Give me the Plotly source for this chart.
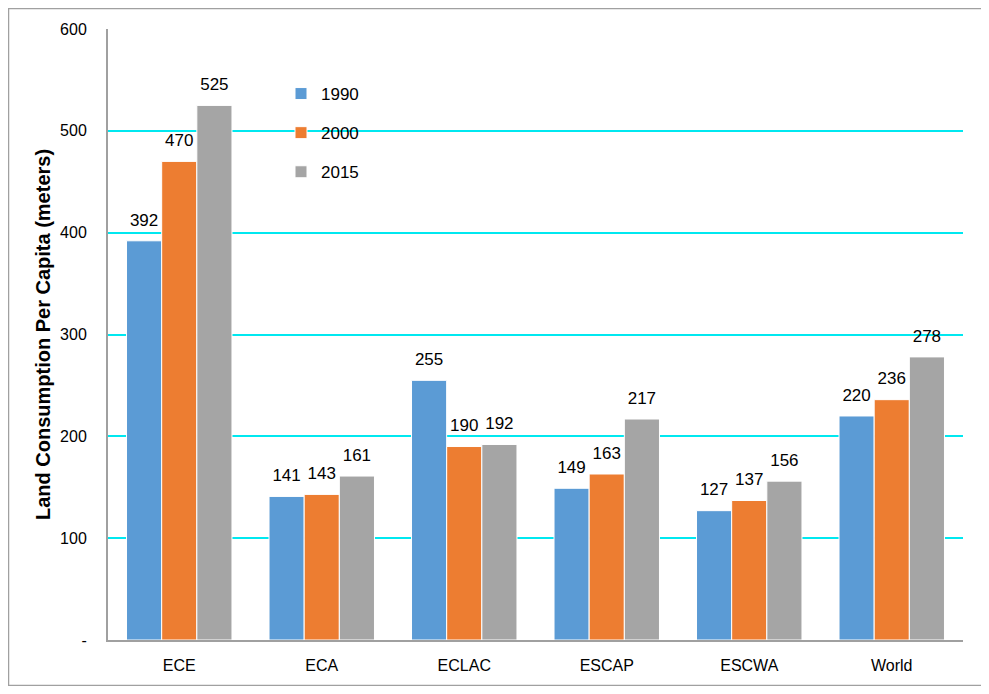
import plotly.graph_objects as go

categories = ["ECE", "ECA", "ECLAC", "ESCAP", "ESCWA", "World"]
v1990 = [392, 141, 255, 149, 127, 220]
v2000 = [470, 143, 190, 163, 137, 236]
v2015 = [525, 161, 192, 217, 156, 278]
series_names = ["1990", "2000", "2015"]
colors = ["#5B9BD5", "#ED7D31", "#A5A5A5"]
ytick_vals = [0, 100, 200, 300, 400, 500, 600]
ytick_text = ["-", "100", "200", "300", "400", "500", "600"]

FONT = "Liberation Sans, Arial, sans-serif"

fig = go.Figure()
for name, vals, col in zip(series_names, [v1990, v2000, v2015], colors):
    fig.add_trace(go.Bar(
        x=categories, y=vals, name=name, legendgroup=name,
        offsetgroup=name, alignmentgroup="all",
        marker=dict(color=col, line=dict(color="white", width=1)),
        hoverinfo="x+y+name",
    ))
for name, vals in zip(series_names, [v1990, v2000, v2015]):
    fig.add_trace(go.Scatter(
        x=categories, y=vals, name=name, legendgroup=name, showlegend=False,
        offsetgroup=name, alignmentgroup="all",
        mode="markers+text", marker=dict(size=16, opacity=0),
        text=[str(v) for v in vals], textposition="top center",
        textfont=dict(family=FONT, size=17, color="black"),
        cliponaxis=False, hoverinfo="skip",
    ))

# the page body has an 8px margin; work in page pixels and convert
OFF = 8
W, H = 981, 678
ml, mr, mt, mb = 108 - OFF, 981 - (963 - OFF), 29 - OFF, 678 - (640 - OFF)
pw, ph = W - ml - mr, H - mt - mb

def px_x(x):
    return (x - OFF - ml) / pw

def px_y(y):
    return (H - mb - (y - OFF)) / ph

fig.update_layout(
    width=W, height=H,
    margin=dict(l=ml, r=mr, t=mt, b=mb),
    paper_bgcolor="white", plot_bgcolor="white",
    barmode="group", bargap=0.26, bargroupgap=0,
    scattermode="group", scattergap=0.26,
    font=dict(family=FONT, size=14, color="black"),
    showlegend=True,
    legend=dict(x=px_x(281), y=px_y(76), xanchor="left", yanchor="top",
                bgcolor="rgba(0,0,0,0)", tracegroupgap=14,
                font=dict(family=FONT, size=17, color="black"),
                itemwidth=30),
    xaxis=dict(showgrid=False, showline=True, linecolor="#A0A0A0", linewidth=2,
               ticks="", ticklabelstandoff=10, automargin=False,
               tickfont=dict(family=FONT, size=16, color="black")),
    yaxis=dict(range=[0, 600], tickvals=ytick_vals, ticktext=ytick_text,
               showgrid=True, gridcolor="#00E8F0", gridwidth=2,
               showline=True, linecolor="#A0A0A0", linewidth=2,
               zeroline=False, ticks="", ticklabelstandoff=16, automargin=False,
               tickfont=dict(family=FONT, size=16, color="black"),
               title=dict(text="<b>Land Consumption Per Capita (meters)</b>",
                          font=dict(family=FONT, size=20, color="black"),
                          standoff=4)),
    shapes=[dict(type="rect", xref="paper", yref="paper",
                 x0=px_x(8.5), x1=px_x(985), y0=px_y(685.5), y1=px_y(8.5),
                 line=dict(color="#A0A0A0", width=1.5), fillcolor="rgba(0,0,0,0)",
                 layer="below")],
)

fig.write_html("out.html")
